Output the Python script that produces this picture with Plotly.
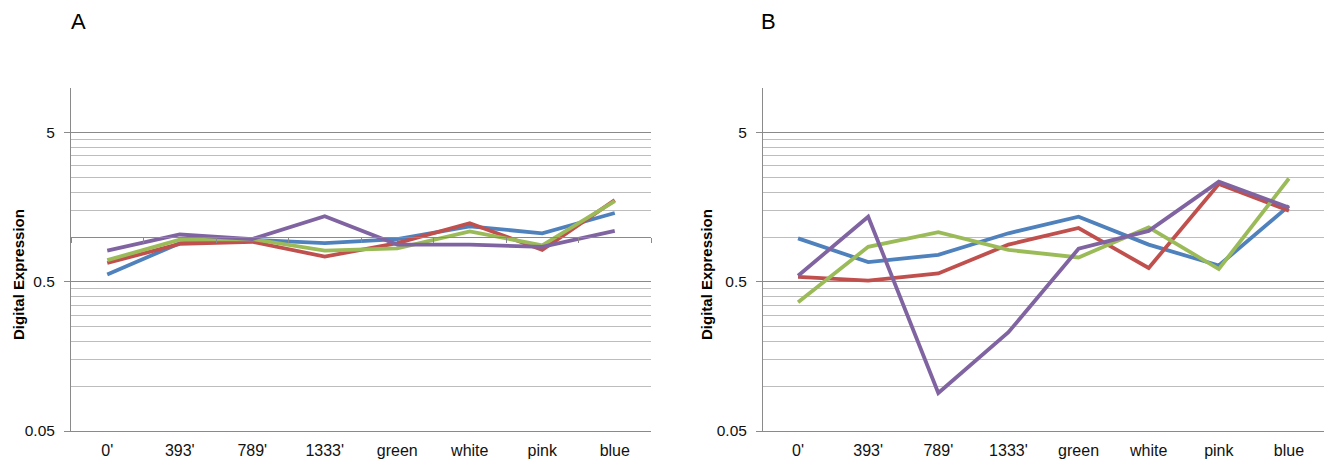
import math
import plotly.graph_objects as go

CATEGORIES = ["0'", "393'", "789'", "1333'", "green", "white", "pink", "blue"]

A_BLUE = [0.56, 0.91, 0.96, 0.91, 0.97, 1.18, 1.06, 1.45]
A_RED = [0.67, 0.90, 0.93, 0.74, 0.91, 1.24, 0.82, 1.77]
A_GREEN = [0.70, 0.96, 0.97, 0.81, 0.84, 1.09, 0.88, 1.74]
A_PURPLE = [0.81, 1.04, 0.97, 1.38, 0.89, 0.89, 0.86, 1.10]

B_BLUE = [0.98, 0.68, 0.76, 1.06, 1.37, 0.89, 0.645, 1.62]
B_RED = [0.54, 0.51, 0.57, 0.89, 1.15, 0.62, 2.27, 1.50]
B_GREEN = [0.365, 0.86, 1.08, 0.82, 0.73, 1.16, 0.61, 2.47]
B_PURPLE = [0.55, 1.37, 0.090, 0.23, 0.835, 1.10, 2.35, 1.58]

Y_MAJOR = [0.05, 0.5, 5]
Y_MAJOR_TEXT = ["0.05", "0.5", "5"]
Y_MINOR = [0.1, 0.15, 0.2, 0.25, 0.3, 0.35, 0.4, 0.45,
           1, 1.5, 2, 2.5, 3, 3.5, 4, 4.5, 10]
Y_MIN, Y_MAX = 0.05, 10
CROSS_AT = 1

COLORS = ["#4F81BD", "#C0504D", "#9BBB59", "#8064A2"]
FONT = "Liberation Sans, Arial, sans-serif"
W, H = 1326, 461

MAJOR_GRID = "#8a8a8a"
MINOR_GRID = "#bdbdbd"
AXIS_COL = "#8a8a8a"

xdomA = [71 / W, 651 / W]
xdomB = [763 / W, 1324 / W]
ydom = [1 - 431 / H, 1 - 88 / H]

fig = go.Figure()

for vals, col in zip([A_BLUE, A_RED, A_GREEN, A_PURPLE], COLORS):
    fig.add_trace(go.Scatter(x=CATEGORIES, y=vals, mode="lines",
                             line=dict(color=col, width=3.8),
                             xaxis="x", yaxis="y", showlegend=False))
for vals, col in zip([B_BLUE, B_RED, B_GREEN, B_PURPLE], COLORS):
    fig.add_trace(go.Scatter(x=CATEGORIES, y=vals, mode="lines",
                             line=dict(color=col, width=3.8),
                             xaxis="x2", yaxis="y2", showlegend=False))
# empty trace to activate the crossing category axis of panel A
fig.add_trace(go.Scatter(x=CATEGORIES, y=[None] * len(CATEGORIES), mode="lines",
                         xaxis="x3", yaxis="y", showlegend=False, hoverinfo="skip"))

lo, hi = math.log10(Y_MIN), math.log10(Y_MAX)
cross_pos = ydom[0] + (math.log10(CROSS_AT) - lo) / (hi - lo) * (ydom[1] - ydom[0])


def yaxis(anchor):
    return dict(
        type="log", range=[lo, hi], domain=ydom, anchor=anchor,
        tickmode="array", tickvals=Y_MAJOR, ticktext=Y_MAJOR_TEXT,
        showgrid=True, gridcolor=MAJOR_GRID, gridwidth=1,
        showline=True, linecolor=AXIS_COL, linewidth=1,
        ticks="outside", ticklen=6, tickcolor=AXIS_COL,
        tickfont=dict(family=FONT, size=15.5, color="#111"),
        ticklabelstandoff=6, automargin=False,
        zeroline=False,
        minor=dict(tickmode="array", tickvals=Y_MINOR, showgrid=True,
                   gridcolor=MINOR_GRID, gridwidth=1, ticks=""),
    )


def xaxis(anchor, dom):
    return dict(
        type="category", domain=dom, anchor=anchor, range=[-0.5, 7.5],
        showgrid=False, zeroline=False, automargin=False,
        showline=True, linecolor=AXIS_COL, linewidth=1, ticks="",
        tickfont=dict(family=FONT, size=16, color="#111"),
        ticklabelstandoff=5,
    )


fig.update_layout(
    width=W, height=H,
    margin=dict(l=0, r=0, t=0, b=0),
    paper_bgcolor="white", plot_bgcolor="white",
    showlegend=False,
    hovermode=False,
    xaxis=xaxis("y", xdomA),
    xaxis2=xaxis("y2", xdomB),
    yaxis=yaxis("x"),
    yaxis2=yaxis("x2"),
    xaxis3=dict(type="category", overlaying="x", anchor="free", position=cross_pos,
                range=[-0.5, 7.5], showgrid=False, zeroline=False,
                showline=True, linecolor=AXIS_COL, linewidth=1,
                ticks="outside", ticklen=5, tickcolor=AXIS_COL,
                tickson="boundaries", showticklabels=False),
)

annotations = [
    dict(text="A", x=78.5 / W, y=1 - 21.7 / H, xref="paper", yref="paper",
         showarrow=False, xanchor="center", yanchor="middle",
         font=dict(family=FONT, size=22, color="#000")),
    dict(text="B", x=768.5 / W, y=1 - 21.7 / H, xref="paper", yref="paper",
         showarrow=False, xanchor="center", yanchor="middle",
         font=dict(family=FONT, size=22, color="#000")),
    dict(text="<b>Digital Expression</b>", x=18 / W, y=1 - 275 / H,
         xref="paper", yref="paper", showarrow=False, textangle=-90,
         xanchor="center", yanchor="middle",
         font=dict(family=FONT, size=15, color="#000")),
    dict(text="<b>Digital Expression</b>", x=706 / W, y=1 - 275 / H,
         xref="paper", yref="paper", showarrow=False, textangle=-90,
         xanchor="center", yanchor="middle",
         font=dict(family=FONT, size=15, color="#000")),
]
fig.update_layout(annotations=annotations)

fig.write_html(
    "out.html",
    config={"displayModeBar": False},
    post_script="document.body.style.margin='0px';document.body.style.overflow='hidden';",
)
